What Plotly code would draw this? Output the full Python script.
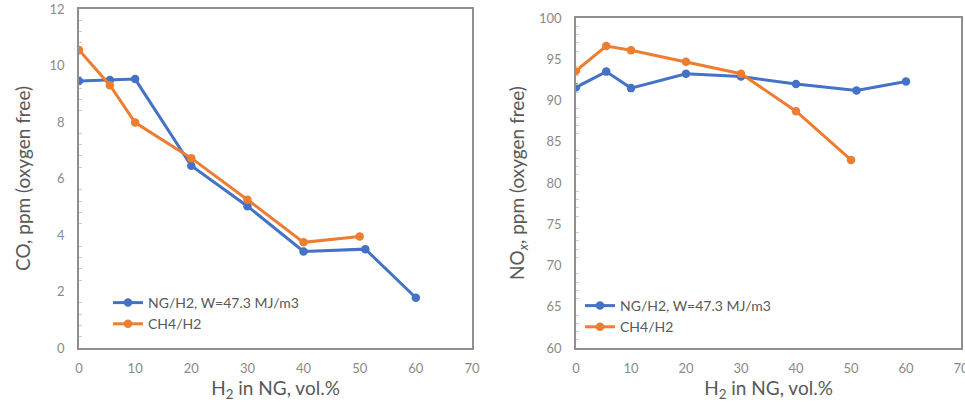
import plotly.graph_objects as go

# ---- data ----
x_ng = [0, 5.5, 10, 20, 30, 40, 51, 60]
co_ng = [9.45, 9.49, 9.52, 6.45, 5.02, 3.42, 3.50, 1.78]
x_ch4 = [0, 5.5, 10, 20, 30, 40, 50]
co_ch4 = [10.55, 9.30, 7.98, 6.72, 5.25, 3.74, 3.95]

nox_ng = [91.6, 93.5, 91.5, 93.25, 92.9, 92.0, 91.2, 92.3]
nox_ch4 = [93.6, 96.6, 96.1, 94.7, 93.25, 88.7, 82.8]

name_ng = "NG/H2, W=47.3 MJ/m3"
name_ch4 = "CH4/H2"

BLUE = "#4472C4"
ORANGE = "#ED7D31"
W, H = 965, 402
FONT = "Lato"


def px(v):
    return v / W


def py(v):
    return 1 - v / H


fig = go.Figure()


def add(x, y, name, color, xa, ya, legend):
    fig.add_trace(go.Scatter(
        x=x, y=y, name=name, mode="lines+markers",
        line=dict(color=color, width=3),
        marker=dict(color=color, size=8.5),
        xaxis=xa, yaxis=ya, legend=legend))


add(x_ng, co_ng, name_ng, BLUE, "x", "y", "legend")
add(x_ch4, co_ch4, name_ch4, ORANGE, "x", "y", "legend")
add(x_ng, nox_ng, name_ng, BLUE, "x2", "y2", "legend2")
add(x_ch4, nox_ch4, name_ch4, ORANGE, "x2", "y2", "legend2")

axis_common = dict(
    showline=True, linecolor="#8f8f8f", linewidth=1.5, mirror=True,
    showgrid=False, zeroline=False, automargin=False,
    ticklabeloverflow="allow",
    tickfont=dict(family=FONT, size=13, color="#8a8a8a"),
    title_font=dict(family=FONT, size=19, color="#595959"),
)

xtitle = "H<sub>2</sub> in NG, vol.%"

fig.update_layout(
    width=W, height=H,
    margin=dict(l=0, r=0, t=0, b=0),
    paper_bgcolor="white", plot_bgcolor="white",
    font=dict(family=FONT, color="#595959"),
    xaxis=dict(domain=[px(79), px(472)], range=[0, 70], dtick=10,
               anchor="y", title=dict(text=xtitle, standoff=4),
               ticks="", ticklabelstandoff=8, **axis_common),
    yaxis=dict(domain=[py(348), py(9)], range=[0, 12], dtick=2,
               anchor="x", title=dict(text="CO, ppm (oxygen free)", standoff=14),
               ticks="", ticklabelstandoff=10,
               minor=dict(ticks="inside", ticklen=3, tickcolor="#cccccc", dtick=0.4),
               **axis_common),
    xaxis2=dict(domain=[px(576), px(961)], range=[0, 70], dtick=10,
                anchor="y2", title=dict(text=xtitle, standoff=4),
                ticks="", ticklabelstandoff=8, **axis_common),
    yaxis2=dict(domain=[py(348), py(18)], range=[60, 100], dtick=5,
                anchor="x2",
                title=dict(text="NO<sub><i>x</i></sub>, ppm (oxygen free)", standoff=9),
                ticks="", ticklabelstandoff=10,
                minor=dict(ticks="inside", ticklen=3, tickcolor="#cccccc", dtick=1),
                **axis_common),
    legend=dict(x=px(108), y=py(287), xanchor="left", yanchor="top",
                bgcolor="rgba(0,0,0,0)", tracegroupgap=0, itemwidth=30,
                font=dict(family=FONT, size=14, color="#595959")),
    legend2=dict(x=px(580), y=py(290), xanchor="left", yanchor="top",
                 bgcolor="rgba(0,0,0,0)", tracegroupgap=0, itemwidth=30,
                 font=dict(family=FONT, size=14, color="#595959")),
)

# remove the default 8px page margin so the figure fills the window exactly
fig.write_html(
    "out.html",
    config={"displayModeBar": False},
    post_script="document.body.style.margin='0';document.body.style.overflow='hidden';",
)
